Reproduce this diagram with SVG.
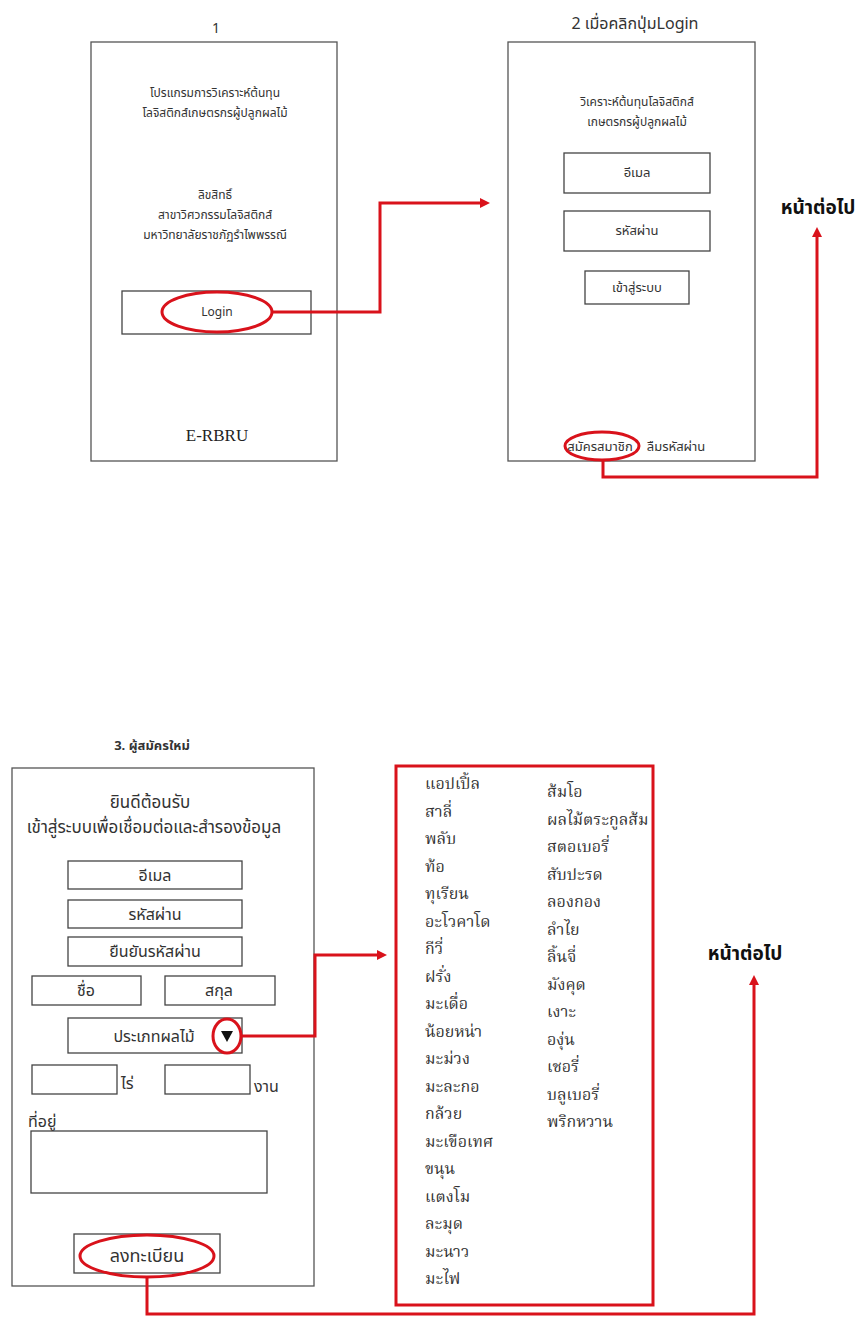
<svg xmlns="http://www.w3.org/2000/svg" width="856" height="1317" viewBox="0 0 856 1317">
  <defs>
    <style>
      .screen { fill: #fff; stroke: #555; stroke-width: 1.3; }
      .box { fill: #fff; stroke: #444; stroke-width: 1.3; }
      .t { font-family: "Noto Sans Thai", "Noto Serif Thai", "Loma", "Garuda", "Liberation Sans", sans-serif; fill: #333; }
      .c { text-anchor: middle; }
      .s12 { font-size: 12px; }
      .s13 { font-size: 13px; }
      .s16 { font-size: 16px; }
      .s17 { font-size: 17px; }
      .head { font-family: "Noto Sans Thai", "Liberation Sans", sans-serif; fill: #111; font-weight: bold; font-size: 19px; text-anchor: middle; }
      .hl { fill: none; stroke: #d9121b; stroke-width: 3; }
      .link { fill: none; stroke: #d9121b; stroke-width: 3; }
      .fruit { font-family: "Noto Serif Thai", "Noto Sans Thai", "Liberation Serif", serif; font-size: 16px; fill: #333; }
    </style>
    <marker id="arrow" markerUnits="userSpaceOnUse" markerWidth="10" markerHeight="10" refX="2" refY="5" orient="auto">
      <path d="M0,0 L10,5 L0,10 Z" fill="#d9121b"/>
    </marker>
  </defs>
  <rect width="856" height="1317" fill="#fff"/>

  <!-- Screen 1: splash -->
  <g id="screen1">
    <text class="t c" x="216" y="33" font-size="14" fill="#222">1</text>
    <rect class="screen" x="91" y="42" width="246" height="419"/>
    <text class="t c s12" x="215" y="97">โปรแกรมการวิเคราะห์ต้นทุน</text>
    <text class="t c s12" x="215" y="117">โลจิสติกส์เกษตรกรผู้ปลูกผลไม้</text>
    <text class="t c s12" x="215" y="199">ลิขสิทธิ์</text>
    <text class="t c s12" x="215" y="219">สาขาวิศวกรรมโลจิสติกส์</text>
    <text class="t c s12" x="215" y="239">มหาวิทยาลัยราชภัฏรำไพพรรณี</text>
  </g>
  <g id="login-button">
    <rect class="box" x="122" y="291" width="189" height="43"/>
    <text class="t c s12" x="217" y="316" fill="#555">Login</text>
    <ellipse class="hl" cx="217" cy="312" rx="55" ry="20"/>
  </g>
  <g id="brand">
    <text x="217" y="441" text-anchor="middle" font-family="Liberation Serif, serif" font-size="17" fill="#222">E-RBRU</text>
  </g>

  <!-- Screen 2: login form -->
  <g id="screen2">
    <text class="t c" x="635" y="29" font-size="16" fill="#111">2 เมื่อคลิกปุ่มLogin</text>
    <rect class="screen" x="508" y="42" width="247" height="419"/>
    <text class="t c s12" x="637" y="106">วิเคราะห์ต้นทุนโลจิสติกส์</text>
    <text class="t c s12" x="637" y="126">เกษตรกรผู้ปลูกผลไม้</text>
  </g>
  <g id="login-email">
    <rect class="box" x="564" y="153" width="146" height="40"/>
    <text class="t c s13" x="637" y="177">อีเมล</text>
  </g>
  <g id="login-password">
    <rect class="box" x="564" y="211" width="146" height="40"/>
    <text class="t c s13" x="637" y="235">รหัสผ่าน</text>
  </g>
  <g id="login-submit">
    <rect class="box" x="585" y="271" width="104" height="33"/>
    <text class="t c s13" x="637" y="292">เข้าสู่ระบบ</text>
  </g>
  <g id="register-link">
    <text class="t c s13" x="600" y="451">สมัครสมาชิก</text>
    <ellipse class="hl" cx="602" cy="446" rx="37" ry="14"/>
  </g>
  <g id="forgot-link">
    <text class="t c s13" x="676" y="451">ลืมรหัสผ่าน</text>
  </g>
  <g id="next-top">
    <text class="head" x="818" y="214">หน้าต่อไป</text>
  </g>

  <!-- Screen 3: registration form -->
  <g id="screen3">
    <text class="t c" x="152" y="750" font-size="13" font-weight="bold" fill="#111">3. ผู้สมัครใหม่</text>
    <rect class="screen" x="12" y="768" width="302" height="518"/>
    <text class="t c s17" x="150" y="808">ยินดีต้อนรับ</text>
    <text class="t c s17" x="154" y="833">เข้าสู่ระบบเพื่อเชื่อมต่อและสำรองข้อมูล</text>
  </g>
  <g id="reg-email">
    <rect class="box" x="68" y="861" width="174" height="28"/>
    <text class="t c s16" x="155" y="881">อีเมล</text>
  </g>
  <g id="reg-password">
    <rect class="box" x="68" y="900" width="174" height="28"/>
    <text class="t c s16" x="155" y="920">รหัสผ่าน</text>
  </g>
  <g id="reg-confirm">
    <rect class="box" x="68" y="937" width="174" height="29"/>
    <text class="t c s16" x="155" y="957">ยืนยันรหัสผ่าน</text>
  </g>
  <g id="reg-firstname">
    <rect class="box" x="32" y="976" width="109" height="29"/>
    <text class="t c s16" x="86" y="996">ชื่อ</text>
  </g>
  <g id="reg-lastname">
    <rect class="box" x="165" y="976" width="110" height="29"/>
    <text class="t c s16" x="219" y="996">สกุล</text>
  </g>
  <g id="reg-fruit-type">
    <rect class="box" x="68" y="1018" width="174" height="35"/>
    <text class="t c s16" x="154" y="1042">ประเภทผลไม้</text>
    <polygon points="221,1031 233,1031 227,1042" fill="#111"/>
    <ellipse class="hl" cx="227" cy="1036" rx="14" ry="17"/>
  </g>
  <g id="reg-rai">
    <rect class="box" x="32" y="1065" width="85" height="29"/>
    <text class="t s16" x="121" y="1089">ไร่</text>
  </g>
  <g id="reg-ngan">
    <rect class="box" x="165" y="1065" width="85" height="29"/>
    <text class="t s16" x="254" y="1092">งาน</text>
  </g>
  <g id="reg-address">
    <text class="t s16" x="28" y="1127">ที่อยู่</text>
    <rect class="box" x="31" y="1131" width="236" height="62"/>
  </g>
  <g id="reg-submit">
    <rect class="box" x="74" y="1234" width="146" height="39"/>
    <text class="t c" x="147" y="1262" font-size="18">ลงทะเบียน</text>
    <ellipse class="hl" cx="147" cy="1256" rx="67" ry="21"/>
  </g>

  <!-- Fruit type list -->
  <g id="fruit-list">
    <rect x="396" y="766" width="257" height="539" fill="none" stroke="#d9121b" stroke-width="3"/>
    <text class="fruit" x="425" y="789">แอปเปิ้ล</text>
    <text class="fruit" x="425" y="817">สาลี่</text>
    <text class="fruit" x="425" y="844">พลับ</text>
    <text class="fruit" x="425" y="872">ท้อ</text>
    <text class="fruit" x="425" y="899">ทุเรียน</text>
    <text class="fruit" x="425" y="927">อะโวคาโด</text>
    <text class="fruit" x="425" y="954">กีวี่</text>
    <text class="fruit" x="425" y="982">ฝรั่ง</text>
    <text class="fruit" x="425" y="1009">มะเดื่อ</text>
    <text class="fruit" x="425" y="1037">น้อยหน่า</text>
    <text class="fruit" x="425" y="1064">มะม่วง</text>
    <text class="fruit" x="425" y="1092">มะละกอ</text>
    <text class="fruit" x="425" y="1119">กล้วย</text>
    <text class="fruit" x="425" y="1147">มะเขือเทศ</text>
    <text class="fruit" x="425" y="1174">ขนุน</text>
    <text class="fruit" x="425" y="1202">แตงโม</text>
    <text class="fruit" x="425" y="1229">ละมุด</text>
    <text class="fruit" x="425" y="1257">มะนาว</text>
    <text class="fruit" x="425" y="1284">มะไฟ</text>
    <text class="fruit" x="547" y="797">ส้มโอ</text>
    <text class="fruit" x="547" y="825">ผลไม้ตระกูลส้ม</text>
    <text class="fruit" x="547" y="852">สตอเบอรี่</text>
    <text class="fruit" x="547" y="880">สับปะรด</text>
    <text class="fruit" x="547" y="907">ลองกอง</text>
    <text class="fruit" x="547" y="935">ลำไย</text>
    <text class="fruit" x="547" y="962">ลิ้นจี่</text>
    <text class="fruit" x="547" y="990">มังคุด</text>
    <text class="fruit" x="547" y="1017">เงาะ</text>
    <text class="fruit" x="547" y="1045">องุ่น</text>
    <text class="fruit" x="547" y="1072">เชอรี่</text>
    <text class="fruit" x="547" y="1100">บลูเบอรี่</text>
    <text class="fruit" x="547" y="1127">พริกหวาน</text>
  </g>
  <g id="next-bottom">
    <text class="head" x="745" y="960">หน้าต่อไป</text>
  </g>

  <!-- Navigation links -->
  <g id="connectors">
    <path class="link" d="M272,312 H380 V203 H482" marker-end="url(#arrow)"/>
    <path class="link" d="M603,460 V477 H817 V235" marker-end="url(#arrow)"/>
    <path class="link" d="M241,1036 H315 V955 H379" marker-end="url(#arrow)"/>
    <path class="link" d="M147,1277 V1314 H754 V983" marker-end="url(#arrow)"/>
  </g>
</svg>
